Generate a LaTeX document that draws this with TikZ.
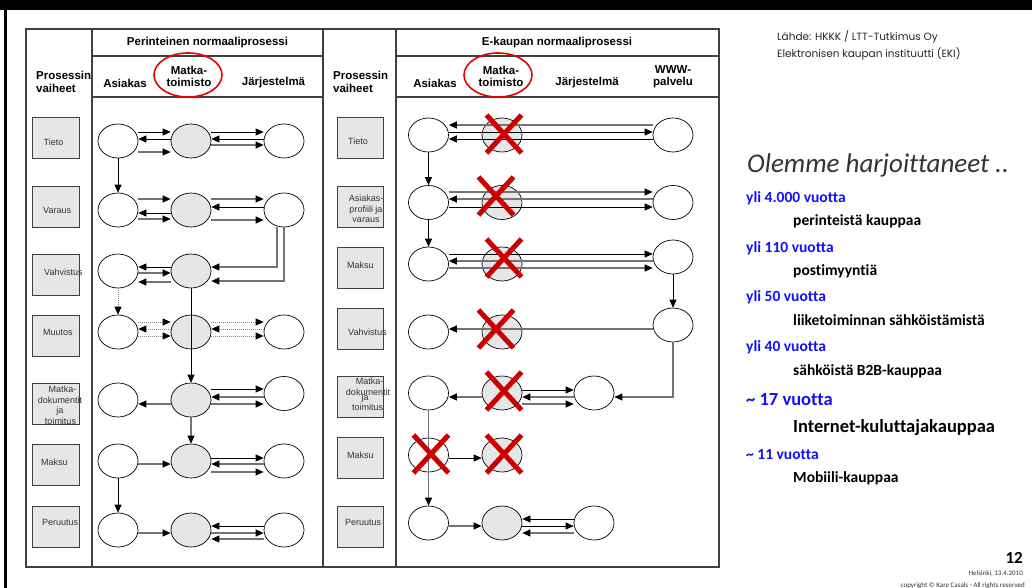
\documentclass[tikz,border=0pt]{standalone}
\usepackage{fontspec}
\setmainfont{Liberation Sans}
\newfontfamily\calfont[Ligatures=NoCommon]{Carlito}
\newfontfamily\geofont{Poppins}
\usetikzlibrary{arrows.meta,shapes.geometric}
\definecolor{boxgray}{HTML}{E6E6E6}
\definecolor{linegray}{HTML}{404040}
\definecolor{xred}{HTML}{CC0000}
\definecolor{txtblue}{HTML}{1010FF}
\definecolor{darktxt}{HTML}{333333}
\newcommand\redX[2]{\draw[redx] (#1-17.5,#2-19) -- (#1+17.5,#2+19) (#1-17.5,#2+19) -- (#1+17.5,#2-19);}
\begin{document}
\begin{tikzpicture}[x=1pt,y=-1pt,
 tl/.style={draw=linegray,line width=1.1pt},
 pbox/.style={draw=black!75,fill=boxgray,line width=0.9pt,minimum width=47pt,minimum height=41pt,inner sep=0pt},
 ew/.style={ellipse,draw=black,fill=white,line width=0.7pt,minimum width=40pt,minimum height=34pt,inner sep=0pt},
 eg/.style={ew,fill=boxgray},
 lab/.style={font=\fontsize{9}{10.5}\selectfont,text=black!80,inner sep=0pt,align=center},
 labw/.style={lab,anchor=west},
 hd/.style={font=\bfseries\fontsize{11.5}{12.5}\selectfont,inner sep=0pt,align=center},
 hdl/.style={hd,align=left,anchor=west},
 redring/.style={ellipse,draw=red!90!black,line width=1.6pt,minimum width=68pt,minimum height=44pt,inner sep=0pt},
 ab/.style={draw=black,line width=0.7pt,-{Triangle[length=8pt,width=7pt,color=black]}},
 ag/.style={draw=black!55,line width=1.1pt,-{Triangle[length=8pt,width=7pt,color=black]}},
 ad/.style={draw=black!45,line width=0.9pt,dash pattern=on 1pt off 1pt,-{Triangle[length=8pt,width=7pt,color=black]}},
 redx/.style={draw=xred,line width=5pt},
 bl/.style={font=\calfont\bfseries\fontsize{15.5}{18}\selectfont,text=txtblue,anchor=base west,inner sep=0pt},
 bk/.style={font=\calfont\bfseries\fontsize{15.5}{18}\selectfont,text=black,anchor=base west,inner sep=0pt},
 src/.style={font=\geofont\fontsize{10.5}{12}\selectfont,text=black!85,anchor=base west,inner sep=0pt},
]
\useasboundingbox (0,0) rectangle (1032,588);
\fill[white] (0,0) rectangle (1032,588);
\fill[black] (0,0) rectangle (1032,10);
\fill[black] (4,10) rectangle (7,588);

% tables
\draw[tl] (26,29) rectangle (719,567);
\draw[tl] (323,29) -- (323,567);
\draw[tl] (92,29) -- (92,567);
\draw[tl] (396,29) -- (396,567);
\draw[tl] (92,56) -- (323,56) (92,97) -- (323,97);
\draw[tl] (396,56) -- (719,56) (396,97) -- (719,97);

% headers
\node[hd] (h1) at (207.5,42.5) {Perinteinen normaaliprosessi};
\node[hdl] (pv1) at (36,82) {Prosessin\\vaiheet};
\node[hd] (ha1) at (125,83) {Asiakas};
\node[hd] (hm1) at (189,76.5) {Matka-\\toimisto};
\node[hd] (hj1) at (273.5,83) {Järjestelmä};
\node[redring] (rr1) at (188,75) {};
\node[hd] (h2) at (557,42.5) {E-kaupan normaaliprosessi};
\node[hdl] (pv2) at (333,82) {Prosessin\\vaiheet};
\node[hd] (ha2) at (435,83) {Asiakas};
\node[hd] (hm2) at (501,76.5) {Matka-\\toimisto};
\node[hd] (hj2) at (587,83) {Järjestelmä};
\node[hd] (hw2) at (673,76.5) {WWW-\\palvelu};
\node[redring] (rr2) at (498,75) {};

% left phase boxes
\node[pbox] (lb1) at (55.5,138) {};
\node[pbox] (lb2) at (55.5,206.5) {};
\node[pbox] (lb3) at (55.5,274.5) {};
\node[pbox] (lb4) at (55.5,335.5) {};
\node[pbox] (lb5) at (55.5,403.5) {};
\node[pbox] (lb6) at (55.5,464.5) {};
\node[pbox] (lb7) at (55.5,526.5) {};
\node[labw] (lt1) at (43.5,142) {Tieto};
\node[labw] (lt2) at (43,210) {Varaus};
\node[labw] (lt3) at (44,272.7) {Vahvistus};
\node[labw] (lt4) at (43,332.7) {Muutos};
\node[lab] (lt5a) at (62.5,389) {Matka-};
\node[lab] (lt5b) at (60,400) {dokumentit};
\node[lab] (lt5c) at (60,410.7) {ja};
\node[lab] (lt5d) at (60.5,421.7) {toimitus};
\node[labw] (lt6) at (41,462) {Maksu};
\node[labw] (lt7) at (42,522) {Peruutus};

% right phase boxes
\node[pbox,minimum width=46pt] (rb1) at (360,138) {};
\node[pbox,minimum width=46pt] (rb2) at (360,206.5) {};
\node[pbox,minimum width=46pt] (rb3) at (360,267.5) {};
\node[pbox,minimum width=46pt] (rb4) at (360,328.5) {};
\node[pbox,minimum width=46pt] (rb5) at (360,397) {};
\node[pbox,minimum width=46pt] (rb6) at (360,458) {};
\node[pbox,minimum width=46pt] (rb7) at (360,526.5) {};
\node[labw] (rt1) at (348,141.7) {Tieto};
\node[lab] (rt2) at (366,209) {Asiakas-\\profiili ja\\varaus};
\node[labw] (rt3) at (347,265) {Maksu};
\node[labw] (rt4) at (348,332.7) {Vahvistus};
\node[lab] (rt5a) at (369.5,381.7) {Matka-};
\node[lab] (rt5b) at (368,392.3) {dokumentit};
\node[lab] (rt5c) at (365,398) {ja};
\node[lab] (rt5d) at (367.5,407.3) {toimitus};
\node[labw] (rt6) at (347,455) {Maksu};
\node[labw] (rt7) at (345,522) {Peruutus};

% left ellipses
\node[ew] (A1) at (118,141) {}; \node[eg] (M1) at (191,141) {}; \node[ew] (J1) at (284,141) {};
\node[ew] (A2) at (118,210) {}; \node[eg] (M2) at (191,210) {}; \node[ew] (J2) at (284,210) {};
\node[ew] (A3) at (118,271) {}; \node[eg] (M3) at (191,271) {};
\node[ew] (A4) at (118,332) {}; \node[eg] (M4) at (191,332) {}; \node[ew] (J4) at (284,332) {};
\node[ew] (A5) at (118,400) {}; \node[eg] (M5) at (191,400) {}; \node[ew] (J5) at (284,393.5) {};
\node[ew] (A6) at (118,461) {}; \node[eg] (M6) at (191,461) {}; \node[ew] (J6) at (284,461) {};
\node[ew] (A7) at (118,530) {}; \node[eg] (M7) at (191,530) {}; \node[ew] (J7) at (284,530) {};

% right ellipses
\node[ew] (RA1) at (428.5,135) {}; \node[eg] (RM1) at (502,135) {}; \node[ew] (RW1) at (673,135) {};
\node[ew] (RA2) at (428.5,202.5) {}; \node[eg] (RM2) at (502,202.5) {}; \node[ew] (RW2) at (673,202.5) {};
\node[ew] (RA3) at (428.5,264) {}; \node[eg] (RM3) at (502,264) {}; \node[ew] (RW3) at (673,257) {};
\node[ew] (RA4) at (428.5,332) {}; \node[eg] (RM4) at (502,332) {}; \node[ew] (RW4) at (673,325) {};
\node[ew] (RA5) at (428.5,393) {}; \node[eg] (RM5) at (502,393) {}; \node[ew] (RJ5) at (594,393) {};
\node[ew] (RA6) at (428.5,455) {}; \node[eg] (RM6) at (502,455) {};
\node[ew] (RA7) at (428.5,523) {}; \node[eg] (RM7) at (502,523) {}; \node[ew] (RJ7) at (594,523) {};

% left connectors
\draw[ab] (A1.east |- 0,132) -- (M1.west |- 0,132);
\draw[ab] (M1.west |- 0,139) -- (A1.east |- 0,139);
\draw[ag] (A1.east |- 0,152) -- (M1.west |- 0,152);
\draw[ab] (M1.east |- 0,132) -- (J1.west |- 0,132);
\draw[ab] (J1.west |- 0,139) -- (M1.east |- 0,139);
\draw[ag] (M1.east |- 0,145) -- (J1.west |- 0,145);
\draw[ab] (A1.south) -- (A2.north);
\draw[ag] (A2.east |- 0,199) -- (M2.west |- 0,199);
\draw[ab] (M2.west |- 0,213) -- (A2.east |- 0,213);
\draw[ag] (A2.east |- 0,219) -- (M2.west |- 0,219);
\draw[ag] (M2.east |- 0,199) -- (J2.west |- 0,199);
\draw[ab] (J2.west |- 0,207) -- (M2.east |- 0,207);
\draw[ag] (M2.east |- 0,220) -- (J2.west |- 0,220);
\draw[ag] ([xshift=-7pt]J2.south) |- (M3.east |- 0,267);
\draw[ag] (J2.south) |- (M3.east |- 0,281);
\draw[ab] (M3.west |- 0,267) -- (A3.east |- 0,267);
\draw[ag] (A3.east |- 0,273) -- (M3.west |- 0,273);
\draw[ag] (M3.west |- 0,282) -- (A3.east |- 0,282);
\draw[ad] (A3.south) -- (A4.north);
\draw[ab] (M3.south) -- (M5.north);
\draw[ad] (A4.east |- 0,322) -- (M4.west |- 0,322);
\draw[ad] (M4.west |- 0,329) -- (A4.east |- 0,329);
\draw[ad] (A4.east |- 0,336) -- (M4.west |- 0,336);
\draw[ad] (M4.east |- 0,322) -- (J4.west |- 0,322);
\draw[ad] (J4.west |- 0,329) -- (M4.east |- 0,329);
\draw[ad] (M4.east |- 0,336) -- (J4.west |- 0,336);
\draw[ag] (M5.west |- 0,404) -- (A5.east |- 0,404);
\draw[ab] (M5.east |- 0,389) -- (J5.west |- 0,389);
\draw[ag] (J5.west |- 0,397) -- (M5.east |- 0,397);
\draw[ag] (M5.east |- 0,404) -- (J5.west |- 0,404);
\draw[ag] (M5.south) -- (M6.north);
\draw[ag] (A6.east |- 0,464) -- (M6.west |- 0,464);
\draw[ab] (M6.east |- 0,458) -- (J6.west |- 0,458);
\draw[ag] (J6.west |- 0,464) -- (M6.east |- 0,464);
\draw[ag] (M6.east |- 0,472) -- (J6.west |- 0,472);
\draw[ab] (A6.south) -- (A7.north);
\draw[ag] (A7.east |- 0,533) -- (M7.west |- 0,533);
\draw[ab] (J7.west |- 0,526) -- (M7.east |- 0,526);
\draw[ag] (M7.east |- 0,533) -- (J7.west |- 0,533);
\draw[ag] (J7.west |- 0,539) -- (M7.east |- 0,539);

% right connectors
\draw[ag] (RW1.west |- 0,125) -- (RA1.east |- 0,125);
\draw[ab] (RA1.east |- 0,132) -- (RW1.west |- 0,132);
\draw[ab] (RW1.west |- 0,139) -- (RA1.east |- 0,139);
\draw[ab] (RA1.south) -- (RA2.north);
\draw[ab] (RA2.south) -- (RA3.north);
\draw[ag] (RA2.east |- 0,192) -- (RW2.west |- 0,192);
\draw[ag] (RW2.west |- 0,199) -- (RA2.east |- 0,199);
\draw[ab] (RA2.east |- 0,207) -- (RW2.west |- 0,207);
\draw[ab] (RA3.east |- 0,254) -- (RW3.west |- 0,254);
\draw[ag] (RW3.west |- 0,261) -- (RA3.east |- 0,261);
\draw[ag] (RA3.east |- 0,268) -- (RW3.west |- 0,268);
\draw[ab] (RW3.south) -- (RW4.north);
\draw[ag] (RW4.west |- 0,329) -- (RA4.east |- 0,329);
\draw[ag] (RW4.south) |- (RJ5.east |- 0,397);
\draw[ag] (RM5.west |- 0,397) -- (RA5.east |- 0,397);
\draw[ab] (RM5.east |- 0,390) -- (RJ5.west |- 0,390);
\draw[ag] (RJ5.west |- 0,397) -- (RM5.east |- 0,397);
\draw[ag] (RM5.east |- 0,404) -- (RJ5.west |- 0,404);
\draw[ag] (RA5.south) -- (RA7.north);
\draw[ab] (RA6.east |- 0,458) -- (RM6.west |- 0,458);
\draw[ag] (RA7.east |- 0,526) -- (RM7.west |- 0,526);
\draw[ab] (RJ7.west |- 0,519) -- (RM7.east |- 0,519);
\draw[ab] (RM7.east |- 0,526) -- (RJ7.west |- 0,526);
\draw[ag] (RJ7.west |- 0,533) -- (RM7.east |- 0,533);

% red crosses
\redX{504}{134}
\redX{496}{196}
\redX{504}{258}
\redX{496}{329}
\redX{504}{391}
\redX{431}{454}
\redX{504}{454}

% right text
\node[src] (src1) at (777,40.7) {Lähde: HKKK / LTT-Tutkimus Oy};
\node[src] (src2) at (777,57.3) {Elektronisen kaupan instituutti (EKI)};
\node[font=\calfont\itshape\fontsize{27}{30}\selectfont,text=darktxt,anchor=base west,inner sep=0pt] (ttl) at (747,172.7) {Olemme harjoittaneet ..};
\node[bl] (y1) at (746,202) {yli 4.000 vuotta};
\node[bk] (k1) at (793,225) {perinteistä kauppaa};
\node[bl] (y2) at (746,252) {yli 110 vuotta};
\node[bk] (k2) at (793,275) {postimyyntiä};
\node[bl] (y3) at (746,301) {yli 50 vuotta};
\node[bk] (k3) at (793,325) {liiketoiminnan sähköistämistä};
\node[bl] (y4) at (746,351) {yli 40 vuotta};
\node[bk] (k4) at (793,375) {sähköistä B2B-kauppaa};
\node[bl,font=\calfont\bfseries\fontsize{18.5}{21}\selectfont] (y5) at (746,405) {\char`\~\ 17 vuotta};
\node[bk,font=\calfont\bfseries\fontsize{18.5}{21}\selectfont] (k5) at (793,432) {Internet-kuluttajakauppaa};
\node[bl] (y6) at (746,459) {\char`\~\ 11 vuotta};
\node[bk] (k6) at (793,482) {Mobiili-kauppaa};
\node[font=\calfont\bfseries\fontsize{17}{20}\selectfont,anchor=base east,inner sep=0pt] (pg) at (1023,563) {12};
\node[font=\calfont\fontsize{7}{8}\selectfont,text=darktxt,anchor=base east,inner sep=0pt] (dt) at (1023,575) {Helsinki, 13.4.2010};
\node[font=\calfont\fontsize{7}{8}\selectfont,text=darktxt,anchor=base east,inner sep=0pt] (cp) at (1025,587) {copyright © Kare Casals - All rights reserved};
\end{tikzpicture}
\end{document}
